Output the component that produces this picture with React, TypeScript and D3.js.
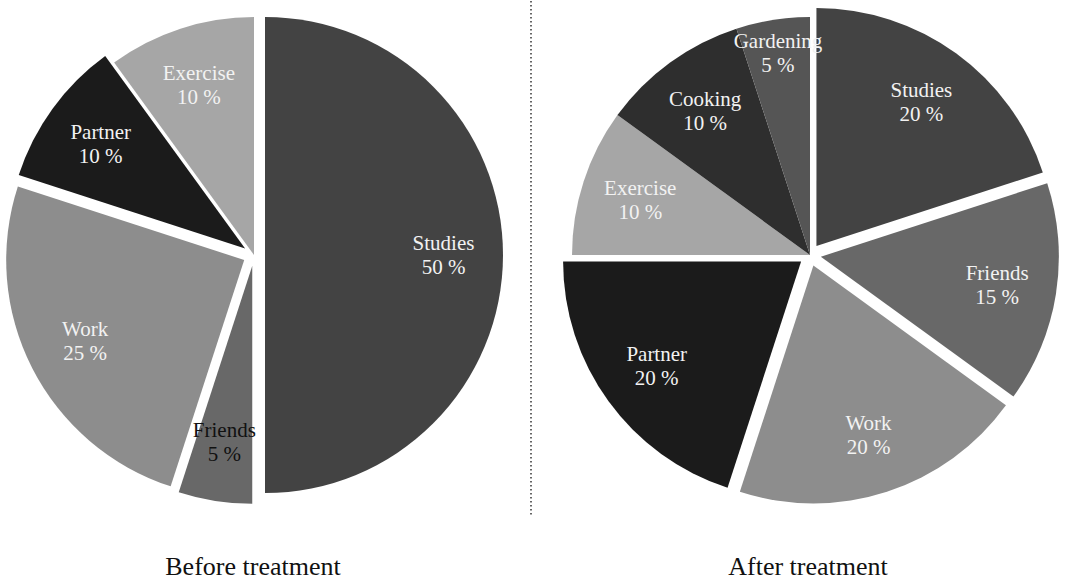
import React from "react";
import * as d3 from "d3";

const beforeCategories = ["Studies", "Friends", "Work", "Partner", "Exercise"];
const beforeValues = [50, 5, 25, 10, 10];

const afterCategories = ["Studies", "Friends", "Work", "Partner", "Exercise", "Cooking", "Gardening"];
const afterValues = [20, 15, 20, 20, 10, 10, 5];

const panelTitles = ["Before treatment", "After treatment"];

// styles
const colors: Record<string, string> = {
  Studies: "#434343",
  Friends: "#686868",
  Work: "#8d8d8d",
  Partner: "#1b1b1b",
  Exercise: "#a6a6a6",
  Cooking: "#2e2e2e",
  Gardening: "#555555",
};
const exploded = new Set(["Studies", "Friends", "Work", "Partner"]);
const EXPLODE = 11;
const RADIUS = 238;
const FONT = "Liberation Serif";

function Pie({ cx, cy, cats, vals, darkLabel, labelR }: any) {
  const pie = d3.pie<number>().sort(null).value((d) => d)(vals);
  const arc = d3.arc<any>().innerRadius(0).outerRadius(RADIUS);
  return (
    <g transform={`translate(${cx},${cy})`}>
      {pie.map((p, i) => {
        const cat = cats[i];
        const mid = (p.startAngle + p.endAngle) / 2;
        const off = exploded.has(cat) ? EXPLODE : 0;
        const ox = Math.sin(mid) * off;
        const oy = -Math.cos(mid) * off;
        const lr = (labelR[cat] ?? 0.75) * RADIUS;
        const lx = ox + Math.sin(mid) * lr;
        const ly = oy - Math.cos(mid) * lr;
        const fill = darkLabel.has(cat) ? "#111" : "#f2f2f2";
        return (
          <g key={cat}>
            <path d={arc(p) as string} fill={colors[cat]} transform={`translate(${ox},${oy})`} />
            <text x={lx} y={ly - 5} textAnchor="middle" style={{ fontFamily: FONT }} fontSize={21} fill={fill}>
              {cat}
            </text>
            <text x={lx} y={ly + 19} textAnchor="middle" style={{ fontFamily: FONT }} fontSize={21} fill={fill}>
              {`${vals[i]} %`}
            </text>
          </g>
        );
      })}
    </g>
  );
}

export default function App() {
  return (
    <svg
      width={1065}
      height={582}
      style={{ position: "absolute", left: 0, top: 0, background: "#fff" }}
    >
      <Pie cx={254} cy={255} cats={beforeCategories} vals={beforeValues} darkLabel={new Set(["Friends"])} labelR={{}} />
      <Pie cx={810} cy={255} cats={afterCategories} vals={afterValues} darkLabel={new Set()} labelR={{ Gardening: 0.86 }} />
      <line x1={531} x2={531} y1={1} y2={515} stroke="#333" strokeWidth={1.5} strokeDasharray="1.5,2.5" />
      <text x={253} y={575} textAnchor="middle" style={{ fontFamily: FONT }} fontSize={26} fill="#111">
        {panelTitles[0]}
      </text>
      <text x={808} y={575} textAnchor="middle" style={{ fontFamily: FONT }} fontSize={26} fill="#111">
        {panelTitles[1]}
      </text>
    </svg>
  );
}
